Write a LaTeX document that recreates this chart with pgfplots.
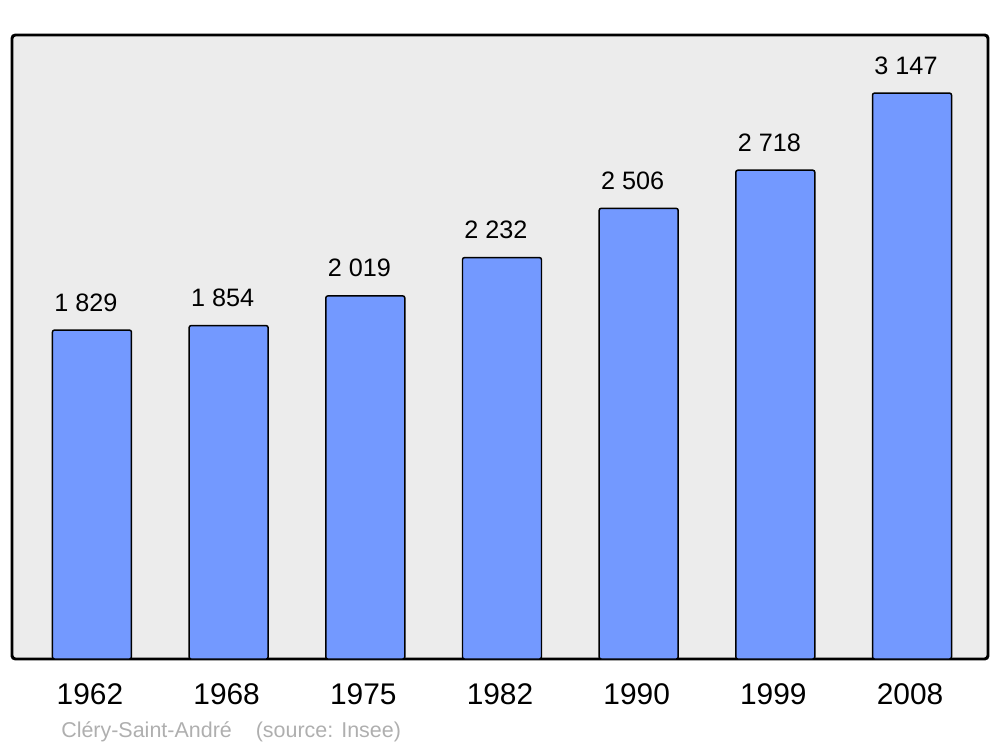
\documentclass[border=0pt]{standalone}
\usepackage{pgfplots}
\pgfplotsset{compat=1.18}
\usepackage{fontspec}
\setmainfont{Liberation Sans}
\definecolor{bgc}{HTML}{ECECEC}
\definecolor{barc}{HTML}{7399FF}
\definecolor{footc}{HTML}{AFAFAF}
\begin{document}
\begin{tikzpicture}
\path[use as bounding box] (-9pt,-66pt) rectangle (741pt,494.25pt);
\begin{axis}[
  scale only axis,
  width=732pt, height=468pt,
  xmin=-0.585, xmax=6.556, ymin=0, ymax=3470,
  axis background/.style={fill=bgc},
  axis line style={line width=2.2pt, rounded corners=2.5pt},
  xtick={0,1,2,3,4,5,6},
  xticklabels={1962,1968,1975,1982,1990,1999,2008},
  ytick=\empty,
  major tick length=0pt,
  xticklabel style={font=\fontsize{22.4}{25}\selectfont, anchor=base, inner sep=0pt, yshift=-34pt, xshift=-1.5pt},
  ybar, bar width=59.25pt,
  nodes near coords,
  point meta=explicit symbolic,
  nodes near coords style={font=\fontsize{18.9}{21}\selectfont, anchor=base, inner sep=0pt, yshift=14.3pt, xshift=-4.5pt},
]
\addplot[fill=barc, draw=black, line width=1.1pt, rounded corners=1.5pt] coordinates {
  (0,1829) [1 829]
  (1,1854) [1 854]
  (2,2019) [2 019]
  (3,2232) [2 232]
  (4,2506) [2 506]
  (5,2718) [2 718]
  (6,3147) [3 147]
};
\end{axis}
\node[anchor=base west, inner sep=0pt, text=footc, font=\fontsize{16.1}{18}\selectfont] at (36.75pt,-58.5pt) {Cléry-Saint-André\hspace{18pt}(source: Insee)};
\end{tikzpicture}
\end{document}
